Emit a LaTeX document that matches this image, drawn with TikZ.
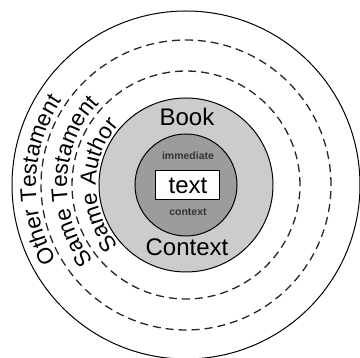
\documentclass[tikz,border=0pt]{standalone}
\usepackage{fontspec}
\setmainfont{Liberation Sans}
\usetikzlibrary{decorations.text}
\definecolor{ringlight}{HTML}{CCCCCC}
\definecolor{ringdark}{HTML}{9C9C9C}
\begin{document}
\begin{tikzpicture}[x=1pt,y=1pt,
  ring/.style={draw=black, line width=1pt},
  dashring/.style={draw=black!85, line width=1.3pt, dash pattern=on 8pt off 5pt},
  bigword/.style={font=\fontsize{24}{24}\selectfont, inner sep=0pt},
  smallword/.style={font=\fontsize{10.5}{10.5}\selectfont\bfseries, text=black!80, inner sep=0pt},
  arcword/.style={decorate, decoration={text along path, text align=center,
     text={|\fontsize{22.5}{22.5}\selectfont|#1}}}]
\useasboundingbox (0,0) rectangle (360,358);
\coordinate (c) at (186,173);

% outer circle and the two dashed rings
\draw[ring] (c) circle[radius=174];
\draw[dashring] (c) circle[radius=145];
\draw[dashring] (c) circle[radius=114];

% filled inner discs
\draw[ring, fill=ringlight] (c) circle[radius=87];
\draw[ring, fill=ringdark] (c) circle[radius=51];

% labels of the inner discs
\node[bigword] (book) at (187,241) {Book};
\node[bigword] (ctx) at (187,111) {Context};
\node[smallword] (imm) at (188,202) {immediate};
\node[smallword] (ictx) at (188,146) {context};
\node[draw=black, line width=1pt, fill=white, minimum width=64pt, minimum height=29pt,
      inner sep=0pt, font=\fontsize{24}{24}\selectfont] (txt) at (188,172.5) {text};

% curved labels on the left side of the rings
\path[arcword={Other Testament}] (c) ++(255:150) arc[start angle=255, end angle=101, radius=150];
\path[arcword={Same Testament}] (c) ++(255:119) arc[start angle=255, end angle=101, radius=119];
\path[arcword={Same Author}] (c) ++(255:90) arc[start angle=255, end angle=105, radius=90];
\end{tikzpicture}
\end{document}
